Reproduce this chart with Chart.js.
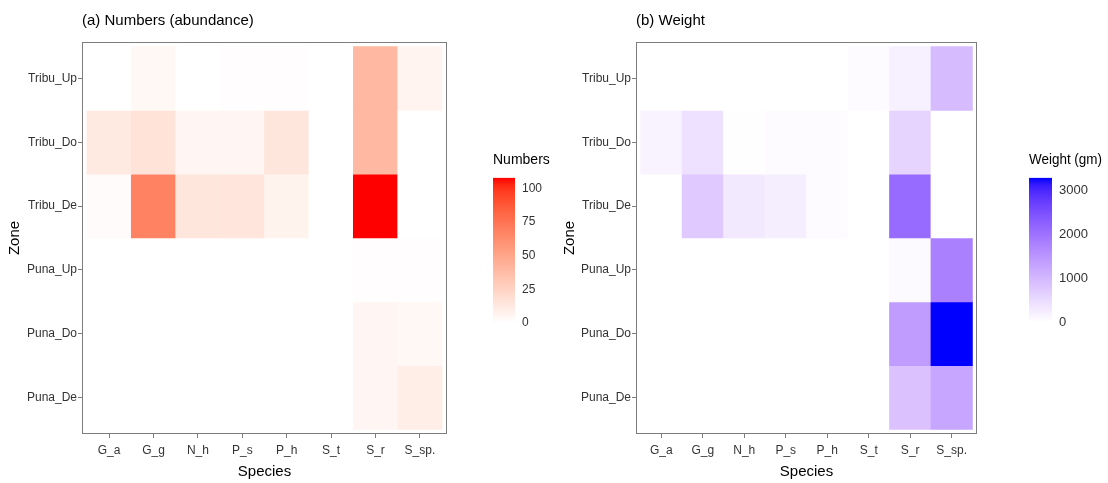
<!DOCTYPE html>
<html>
<head>
<meta charset="utf-8">
<script src="https://cdn.jsdelivr.net/npm/chart.js@4/dist/chart.umd.min.js"></script>
<style>
  body { margin: 0; background: #fff; width: 1108px; height: 483px; overflow: hidden; position: relative; }
  .box { position: absolute; }
</style>
</head>
<body>
<div class="box" style="left:0;top:0;width:452px;height:483px"><canvas id="heatA"></canvas></div>
<div class="box" style="left:490px;top:140px;width:75px;height:197px"><canvas id="barA"></canvas></div>
<div class="box" style="left:555px;top:0;width:427px;height:483px"><canvas id="heatB"></canvas></div>
<div class="box" style="left:1026px;top:140px;width:76px;height:197px"><canvas id="barB"></canvas></div>
<script>
const species = ['G_a', 'G_g', 'N_h', 'P_s', 'P_h', 'S_t', 'S_r', 'S_sp.'];
const zones = ['Tribu_Up', 'Tribu_Do', 'Tribu_De', 'Puna_Up', 'Puna_Do', 'Puna_De'];

// (a) numbers, one row per zone, columns follow species
const numTribuUp = [0, 4, 0, 1, 1, 0, 40, 6];
const numTribuDo = [12, 16, 5, 5, 14, 0, 40, 0];
const numTribuDe = [2, 68, 14, 15, 7, 0, 108, 0];
const numPunaUp = [0, 0, 0, 0, 0, 0, 1, 1];
const numPunaDo = [0, 0, 0, 0, 0, 0, 5, 4];
const numPunaDe = [0, 0, 0, 0, 0, 0, 5, 10];

// (b) weight (gm)
const wtTribuUp = [0, 0, 0, 0, 0, 60, 200, 950];
const wtTribuDo = [160, 420, 10, 50, 50, 0, 600, 0];
const wtTribuDe = [0, 750, 300, 240, 50, 0, 2100, 0];
const wtPunaUp = [0, 0, 0, 0, 0, 0, 80, 1800];
const wtPunaDo = [0, 0, 0, 0, 0, 0, 1400, 3277];
const wtPunaDe = [0, 0, 0, 0, 0, 0, 850, 1250];

const numTicks = [0, 25, 50, 75, 100];
const wtTicks = [0, 1000, 2000, 3000];

const numRows = [numTribuUp, numTribuDo, numTribuDe, numPunaUp, numPunaDo, numPunaDe];
const wtRows = [wtTribuUp, wtTribuDo, wtTribuDe, wtPunaUp, wtPunaDo, wtPunaDe];

const FONT = "'Liberation Sans', Arial, sans-serif";
Chart.defaults.font.family = FONT;
Chart.defaults.animation = false;

// white -> colour interpolation in Lab space, like ggplot's scale_fill_gradient
function toLin(c) { c /= 255; return c <= 0.04045 ? c / 12.92 : Math.pow((c + 0.055) / 1.055, 2.4); }
function fromLin(c) {
    c = c <= 0.0031308 ? 12.92 * c : 1.055 * Math.pow(c, 1 / 2.4) - 0.055;
    return Math.round(Math.max(0, Math.min(1, c)) * 255);
}
function rgbToLab(rgb) {
    const r = toLin(rgb[0]), g = toLin(rgb[1]), b = toLin(rgb[2]);
    const x = (0.4124 * r + 0.3576 * g + 0.1805 * b) / 0.95047;
    const y = 0.2126 * r + 0.7152 * g + 0.0722 * b;
    const z = (0.0193 * r + 0.1192 * g + 0.9505 * b) / 1.08883;
    const f = t => t > 0.008856 ? Math.cbrt(t) : 7.787 * t + 16 / 116;
    return [116 * f(y) - 16, 500 * (f(x) - f(y)), 200 * (f(y) - f(z))];
}
function labToRgb(lab) {
    const fy = (lab[0] + 16) / 116, fx = fy + lab[1] / 500, fz = fy - lab[2] / 200;
    const inv = t => t * t * t > 0.008856 ? t * t * t : (t - 16 / 116) / 7.787;
    const x = inv(fx) * 0.95047, y = inv(fy), z = inv(fz) * 1.08883;
    return [
        fromLin(3.2406 * x - 1.5372 * y - 0.4986 * z),
        fromLin(-0.9689 * x + 1.8758 * y + 0.0415 * z),
        fromLin(0.0557 * x - 0.2040 * y + 1.0570 * z)
    ];
}
function makePalette(high) {
    const a = rgbToLab([255, 255, 255]), b = rgbToLab(high);
    return t => {
        t = Math.max(0, Math.min(1, t));
        const c = labToRgb([0, 1, 2].map(k => a[k] + (b[k] - a[k]) * t));
        return `rgb(${c[0]},${c[1]},${c[2]})`;
    };
}
const reds = makePalette([255, 0, 0]);
const blues = makePalette([0, 0, 255]);

const panelBorder = {
    id: 'panelBorder',
    afterDraw(chart) {
        const a = chart.chartArea, ctx = chart.ctx;
        ctx.save();
        ctx.strokeStyle = '#7d7d7d';
        ctx.lineWidth = 1;
        ctx.strokeRect(Math.round(a.left) + 0.5, Math.round(a.top) + 0.5,
            Math.round(a.right - a.left) - 1, Math.round(a.bottom - a.top) - 1);
        ctx.restore();
    }
};

function heatmap(id, title, rows, pal, yWidth) {
    const max = Math.max(...rows.flat());
    const datasets = rows.map((row, r) => {
        const yc = zones.length - r;
        return {
            label: zones[r],
            data: row.map((v, i) => ({ x: i + 1, y: [yc - 0.5, yc + 0.5] })),
            backgroundColor: row.map(v => pal(v / max)),
            borderWidth: 0,
            grouped: false,
            barPercentage: 1,
            categoryPercentage: 1
        };
    });
    const axisTick = { display: true, drawOnChartArea: false, drawTicks: true, tickLength: 4,
        color: '#7d7d7d', offset: false };
    return new Chart(document.getElementById(id), {
        type: 'bar',
        data: { datasets },
        plugins: [panelBorder],
        options: {
            responsive: true,
            maintainAspectRatio: false,
            layout: { padding: { left: 0, right: 5, top: 0, bottom: 0 } },
            plugins: {
                legend: { display: false },
                tooltip: { enabled: false },
                title: {
                    display: true, text: title, align: 'start', fullSize: false,
                    color: '#000', font: { size: 15, weight: 'normal' },
                    padding: { top: 12, bottom: 12 }
                }
            },
            scales: {
                x: {
                    type: 'linear', min: 0.39, max: 8.61, offset: false,
                    grid: axisTick, border: { display: false },
                    afterBuildTicks: s => { s.ticks = species.map((n, i) => ({ value: i + 1 })); },
                    afterFit: s => { s.height = 49; },
                    ticks: { color: '#333', font: { size: 12 }, padding: 5, maxRotation: 0,
                        callback: v => species[v - 1] },
                    title: { display: true, text: 'Species', color: '#000', font: { size: 15 },
                        padding: { top: 0, bottom: 2 } }
                },
                y: {
                    type: 'linear', min: 0.43, max: 6.57, offset: false,
                    grid: axisTick, border: { display: false },
                    afterBuildTicks: s => { s.ticks = zones.map((n, i) => ({ value: i + 1 })); },
                    afterFit: s => { s.width = yWidth; },
                    ticks: { color: '#333', font: { size: 12 }, padding: 1,
                        callback: v => zones[zones.length - v] },
                    title: { display: true, text: 'Zone', color: '#000', font: { size: 15 },
                        padding: { top: 6, bottom: 0 } }
                }
            }
        }
    });
}

function colorbar(id, title, rows, pal, ticks, fontSize) {
    const max = Math.max(...rows.flat());
    return new Chart(document.getElementById(id), {
        type: 'bar',
        data: {
            labels: [''],
            datasets: [{
                data: [[0, max]],
                borderWidth: 0,
                barPercentage: 1,
                categoryPercentage: 1,
                backgroundColor: ctx => {
                    const chart = ctx.chart;
                    if (!chart.chartArea) return pal(0.5);
                    const ys = chart.scales.y;
                    const y0 = ys.getPixelForValue(0), y1 = ys.getPixelForValue(max);
                    const g = chart.ctx.createLinearGradient(0, y0, 0, y1);
                    for (let k = 0; k <= 20; k++) g.addColorStop(k / 20, pal(k / 20));
                    return g;
                }
            }]
        },
        options: {
            responsive: true,
            maintainAspectRatio: false,
            layout: { padding: { left: 3, right: 0, top: 0, bottom: 10 } },
            plugins: {
                legend: { display: false },
                tooltip: { enabled: false },
                title: {
                    display: true, text: title, align: 'start',
                    color: '#000', font: { size: 14, weight: 'normal' },
                    padding: { top: 12, bottom: 9 }
                }
            },
            scales: {
                x: { display: false },
                y: {
                    position: 'right', min: 0, max: max,
                    grid: { display: false, drawTicks: false, tickLength: 0 }, border: { display: false },
                    afterBuildTicks: s => { s.ticks = ticks.map(v => ({ value: v })); },
                    afterFit: s => { s.width = 50; },
                    ticks: { color: '#333', font: { size: fontSize }, padding: 7,
                        callback: v => String(v) }
                }
            }
        }
    });
}

heatmap('heatA', '(a) Numbers (abundance)', numRows, reds, 82);
colorbar('barA', 'Numbers', numRows, reds, numTicks, 12);
heatmap('heatB', '(b) Weight', wtRows, blues, 81);
colorbar('barB', 'Weight (gm)', wtRows, blues, wtTicks, 13);
</script>
</body>
</html>
